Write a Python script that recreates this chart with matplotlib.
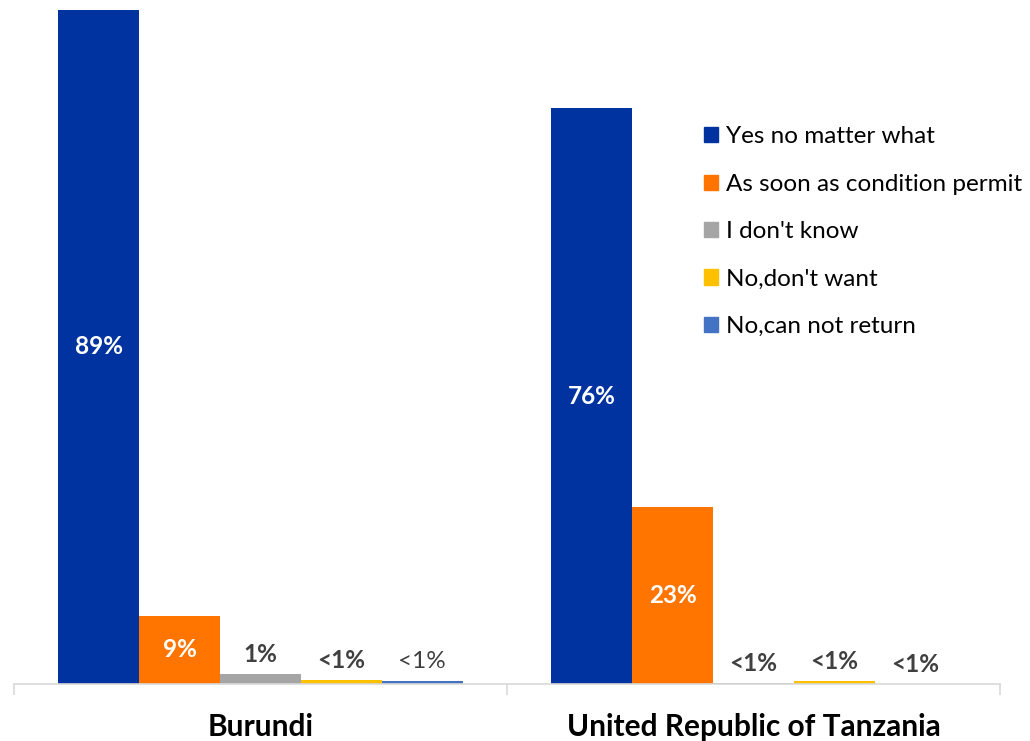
import numpy as np
import matplotlib
matplotlib.use("Agg")
import matplotlib.pyplot as plt
from matplotlib.patches import Patch

plt.rcParams["font.family"] = ["Lato", "DejaVu Sans"]

countries = ["Burundi", "United Republic of Tanzania"]
answers = ["Yes no matter what", "As soon as condition permit", "I don't know",
           "No,don't want", "No,can not return"]
burundi = [89, 9, 1.3, 0.5, 0.4]
tanzania = [76, 23.4, 0.15, 0.35, 0.0]
burundi_labels = ["89%", "9%", "1%", "<1%", "<1%"]
tanzania_labels = ["76%", "23%", "<1%", "<1%", "<1%"]

COLORS = ["#0033A0", "#FF7500", "#A5A5A5", "#FFC000", "#4472C4"]
LABEL_GRAY = "#404040"
AXIS_GRAY = "#D9D9D9"

fig = plt.figure(figsize=(10.3, 7.41), dpi=100)
ax = fig.add_axes([14 / 1030, 57 / 741, 986 / 1030, 682 / 741])

values = np.array([burundi, tanzania])
labels = [burundi_labels, tanzania_labels]
x = np.arange(len(countries))
w = 0.164
for i, ans in enumerate(answers):
    pos = x + (i - 2) * w
    ax.bar(pos, values[:, i], width=w, color=COLORS[i], label=ans, zorder=2)
    for j in range(len(countries)):
        v = values[j, i]
        txt = labels[j][i]
        if v > 5:
            # big bars: white label in the middle
            ax.text(pos[j], v / 2, txt, ha="center", va="center", color="white",
                    fontsize=17.5, fontweight="bold")
        else:
            bold = not (j == 0 and i == 4)
            ax.annotate(txt, (pos[j], v), xytext=(0, 14), textcoords="offset points",
                        ha="center", va="center", color=LABEL_GRAY, fontsize=17.5,
                        fontweight="bold" if bold else "normal")

ax.set_xlim(-0.5, 1.5)
ax.set_ylim(0, 90)
ax.set_yticks([])
for s in ["top", "right", "left"]:
    ax.spines[s].set_visible(False)
ax.spines["bottom"].set_color(AXIS_GRAY)
ax.spines["bottom"].set_linewidth(1.2)
ax.set_xticks([-0.5, 0.5, 1.5], minor=False)
ax.set_xticklabels([])
ax.tick_params(axis="x", which="major", length=8, color=AXIS_GRAY, width=1.2)
ax.set_xticks(x, minor=True)
ax.set_xticklabels(countries, minor=True, fontsize=21.5, fontweight="bold")
ax.tick_params(axis="x", which="minor", length=0, pad=21)

handles = [Patch(color=c) for c in COLORS]
fig.legend(handles, answers, loc="upper left", bbox_to_anchor=(692 / 1030, 1 - 114 / 741),
           frameon=False, fontsize=17.5, handlelength=0.58, handleheight=0.58,
           handletextpad=0.33, labelspacing=1.09, borderpad=0)

fig.savefig("out.png", dpi=100)
